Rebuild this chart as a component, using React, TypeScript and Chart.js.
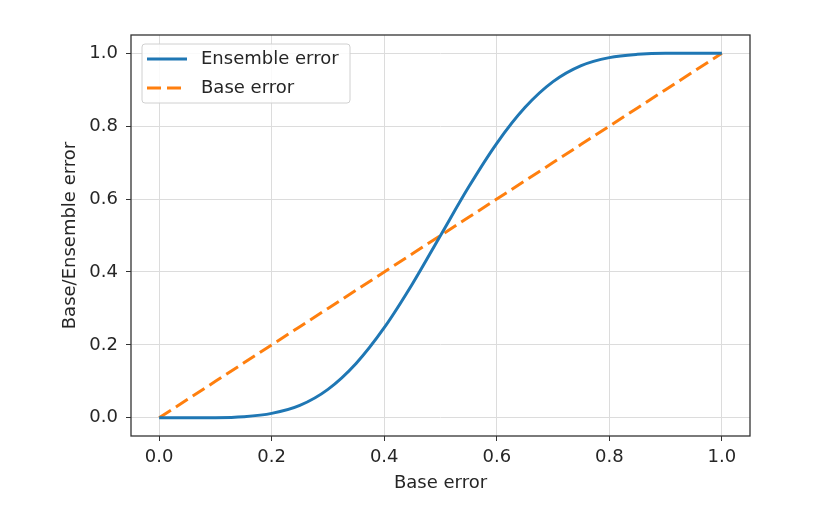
import { useEffect, useRef } from "react";
import { Chart, registerables, Plugin } from "chart.js";

Chart.register(...registerables);

// base error values on the x axis
const baseErrors = [
  0, 0.05, 0.1, 0.15, 0.2, 0.25, 0.3, 0.35, 0.4, 0.45, 0.5, 0.55, 0.6, 0.65,
  0.7, 0.75, 0.8, 0.85, 0.9, 0.95, 1.0,
];
// ensemble error
const ensembleErrors = [
  0, 0, 0.0003, 0.003, 0.012, 0.034, 0.078, 0.149, 0.247, 0.367, 0.5, 0.633,
  0.753, 0.851, 0.922, 0.966, 0.988, 0.997, 1.0, 1.0, 1.0,
];
const tickValues = [0, 0.2, 0.4, 0.6, 0.8, 1.0];

const FONT = "'DejaVu Sans', sans-serif";
const TEXT = "#262626";
const SIZE = 18;

const framePlugin: Plugin = {
  id: "frame",
  afterDraw(chart) {
    const { ctx, chartArea: a } = chart;
    ctx.save();
    ctx.strokeStyle = "#333";
    ctx.lineWidth = 1.3;
    ctx.strokeRect(a.left, a.top, a.right - a.left, a.bottom - a.top);

    // legend box, upper left
    const x0 = a.left + 11;
    const y0 = a.top + 9;
    const w = 208;
    const h = 59;
    ctx.fillStyle = "rgba(255,255,255,0.85)";
    ctx.strokeStyle = "#d0d0d0";
    ctx.lineWidth = 1;
    ctx.beginPath();
    ctx.roundRect(x0, y0, w, h, 3);
    ctx.fill();
    ctx.stroke();
    ctx.font = `${SIZE}px ${FONT}`;
    ctx.textBaseline = "middle";
    chart.data.datasets.forEach((ds: any, i) => {
      const y = y0 + 15 + i * 29;
      ctx.strokeStyle = ds.borderColor;
      ctx.lineWidth = ds.borderWidth;
      ctx.setLineDash(ds.borderDash || []);
      ctx.beginPath();
      ctx.moveTo(x0 + 5, y);
      ctx.lineTo(x0 + 45, y);
      ctx.stroke();
      ctx.setLineDash([]);
      ctx.fillStyle = TEXT;
      ctx.fillText(ds.label, x0 + 59, y);
    });
    ctx.restore();
  },
};

const App = () => {
  const canvasRef = useRef<HTMLCanvasElement | null>(null);

  useEffect(() => {
    if (!canvasRef.current) return;
    const ctx = canvasRef.current.getContext("2d");
    if (!ctx) return;

    const chart = new Chart(ctx, {
      type: "line",
      data: {
        datasets: [
          {
            label: "Ensemble error",
            data: baseErrors.map((x, i) => ({ x, y: ensembleErrors[i] })),
            borderColor: "#1f77b4",
            borderWidth: 3,
            pointRadius: 0,
            cubicInterpolationMode: "monotone",
          },
          {
            label: "Base error",
            data: baseErrors.map((x) => ({ x, y: x })),
            borderColor: "#ff7f0e",
            borderWidth: 3,
            borderDash: [14, 6],
            pointRadius: 0,
          },
        ],
      },
      options: {
        animation: false,
        responsive: true,
        maintainAspectRatio: false,
        layout: { padding: { left: 56, top: 35, right: 65, bottom: 19 } },
        plugins: { legend: { display: false }, tooltip: { enabled: false } },
        scales: {
          x: {
            type: "linear",
            min: -0.05,
            max: 1.05,
            afterFit: (s) => {
              s.height = 62;
            },
            afterBuildTicks: (s) => {
              s.ticks = tickValues.map((value) => ({ value }));
            },
            ticks: {
              padding: 6,
              color: TEXT,
              font: { family: FONT, size: SIZE },
              callback: (v) => Number(v).toFixed(1),
            },
            grid: { color: "#dcdcdc", tickLength: 5, tickColor: "#333" },
            border: { display: false },
            title: {
              display: true,
              text: "Base error",
              color: TEXT,
              font: { family: FONT, size: SIZE },
            },
          },
          y: {
            min: -0.05,
            max: 1.05,
            afterFit: (s) => {
              s.width = 75;
            },
            afterBuildTicks: (s) => {
              s.ticks = tickValues.map((value) => ({ value }));
            },
            ticks: {
              padding: 8,
              color: TEXT,
              font: { family: FONT, size: SIZE },
              callback: (v) => Number(v).toFixed(1),
            },
            grid: { color: "#dcdcdc", tickLength: 5, tickColor: "#333" },
            border: { display: false },
            title: {
              display: true,
              text: "Base/Ensemble error",
              color: TEXT,
              font: { family: FONT, size: SIZE },
            },
          },
        },
      },
      plugins: [framePlugin],
    });

    return () => {
      chart.destroy();
    };
  }, []);

  return (
    <div
      style={{
        position: "absolute",
        left: 0,
        top: 0,
        width: 815,
        height: 517,
        background: "#fff",
      }}
    >
      <canvas ref={canvasRef}></canvas>
    </div>
  );
};

export default App;
